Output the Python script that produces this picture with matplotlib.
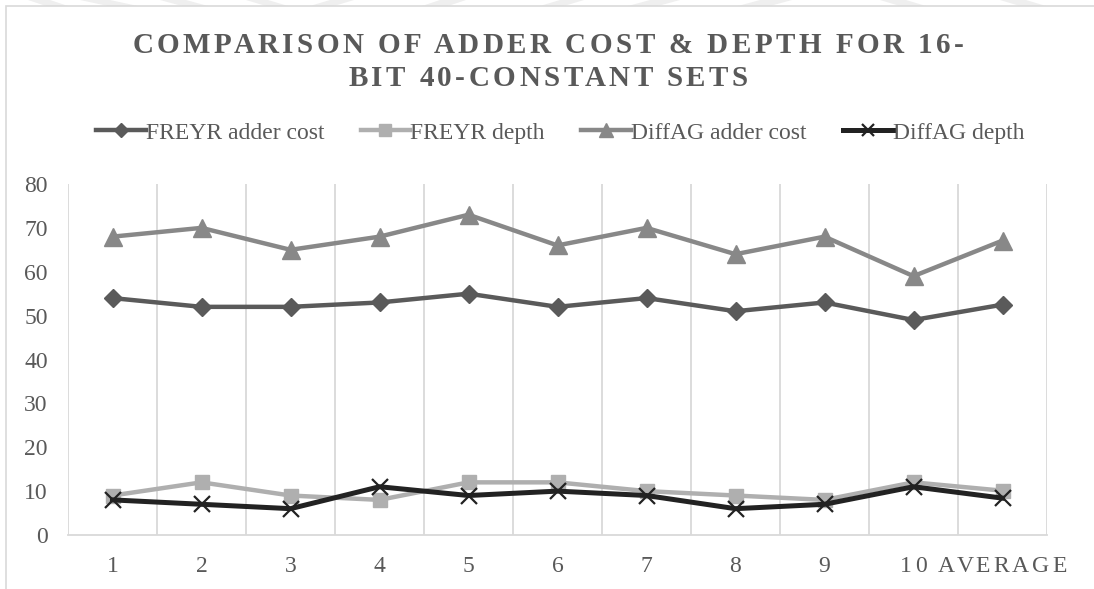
import numpy as np
import matplotlib
matplotlib.use("Agg")
import matplotlib.pyplot as plt
from matplotlib.transforms import IdentityTransform
from matplotlib.patches import Rectangle, Polygon
from matplotlib.lines import Line2D

# ---- data -------------------------------------------------------------
categories = ["1", "2", "3", "4", "5", "6", "7", "8", "9", "10", "AVERAGE"]
freyr_cost = [54, 52, 52, 53, 55, 52, 54, 51, 53, 49, 52.5]
freyr_depth = [9, 12, 9, 8, 12, 12, 10, 9, 8, 12, 10.1]
diffag_cost = [68, 70, 65, 68, 73, 66, 70, 64, 68, 59, 67.1]
diffag_depth = [8, 7, 6, 11, 9, 10, 9, 6, 7, 11, 8.4]
series_names = ["FREYR adder cost", "FREYR depth", "DiffAG adder cost", "DiffAG depth"]
title_lines = ["COMPARISON OF ADDER COST & DEPTH FOR 16-", "BIT 40-CONSTANT SETS"]
y_ticks = list(range(0, 81, 10))

# ---- styling ----------------------------------------------------------
SERIF = "Liberation Serif"
TEXT_GREY = "#595959"
GRID_GREY = "#d9d9d9"
W, H = 1094, 589

fig = plt.figure(figsize=(W / 100, H / 100), dpi=100)
fig.patch.set_facecolor("white")

# chart-area frame (runs off the right and bottom edges)
fig.patches.append(Rectangle((6 / W, -0.2), 1.3, 1 - 6 / H + 0.2,
                             transform=fig.transFigure, fill=False,
                             ec=GRID_GREY, lw=1.2))

# faint diagonal bands along the very top edge
for x0, slope_w, band in [(28, 18, 22), (80, 28, 30), (160, 22, 26), (246, 20, 22),
                          (330, -20, 24), (440, -18, 26), (560, -20, 24),
                          (650, -22, 30), (760, -22, 32), (880, 20, 26),
                          (1000, 20, 26)]:
    pts = [(x0, H), (x0 + band, H), (x0 + band + slope_w, H - 6), (x0 + slope_w, H - 6)]
    fig.patches.append(Polygon(pts, closed=True, transform=IdentityTransform(),
                               fc="#efefef", ec="none", zorder=0))

ax = fig.add_axes([68 / W, 1 - 535 / H, (1047 - 68) / W, (535 - 184) / H])
x = np.arange(len(categories)) + 0.5
ax.set_xlim(0, len(categories))
ax.set_ylim(0, 80)

for side in ["left", "right", "top"]:
    ax.spines[side].set_visible(False)
ax.spines["bottom"].set_color(GRID_GREY)
ax.spines["bottom"].set_linewidth(1.3)

ax.set_xticks(np.arange(len(categories) + 1))
ax.grid(axis="x", color=GRID_GREY, lw=1.3)
ax.set_axisbelow(True)
ax.tick_params(axis="x", length=0, labelbottom=False)
ax.set_yticks(y_ticks)
ax.set_yticklabels([str(v) for v in y_ticks], fontfamily=SERIF)
ax.tick_params(axis="y", length=0, pad=14.5, labelsize=17, labelcolor=TEXT_GREY)

styles = [
    dict(color="#5a5a5a", lw=3.2, marker="D", ms=9.5),
    dict(color="#afafaf", lw=3.2, marker="s", ms=10),
    dict(color="#888888", lw=3.2, marker="^", ms=13),
    dict(color="#222222", lw=3.6, marker="x", ms=11, mew=1.6),
]
handles = []
for vals, name, st, z in zip([freyr_cost, freyr_depth, diffag_cost, diffag_depth],
                             series_names, styles, [3, 4, 5, 6]):
    ln, = ax.plot(x, vals, label=name, zorder=z, clip_on=False, **st)
    handles.append(ln)

leg_handles = []
for st in styles:
    s = dict(st)
    s["ms"] = s["ms"] * 0.8
    leg_handles.append(Line2D([], [], **s))
fig.legend(leg_handles, series_names, loc="center",
           bbox_to_anchor=(560 / W, 1 - 133 / H), ncol=4, frameon=False,
           prop={"family": SERIF, "size": 17}, labelcolor=TEXT_GREY,
           handlelength=2.1, handletextpad=0.0, columnspacing=1.55)


def tracked_text(x, y, s, track, **kw):
    """Centre a string at display (x, y) with extra space between letters."""
    r = fig.canvas.get_renderer()

    def width(t):
        tt = fig.text(0, 0, t, **kw)
        w = tt.get_window_extent(r).width
        tt.remove()
        return w

    base = width("||")
    adv = [width("|" + s[:i] + "|") - base for i in range(len(s) + 1)]
    total = adv[-1] + track * (len(s) - 1)
    left = x - total / 2
    for i, c in enumerate(s):
        if c == " ":
            continue
        cx = left + (adv[i] + adv[i + 1]) / 2 + i * track
        fig.text(cx, y, c, ha="center", va="baseline",
                 transform=IdentityTransform(), **kw)


# title
tracked_text(W / 2 + 1, H - 53, title_lines[0], 3.5,
             family=SERIF, weight="bold", size=21, color=TEXT_GREY)
tracked_text(W / 2 + 1, H - 86, title_lines[1], 3.5,
             family=SERIF, weight="bold", size=21, color=TEXT_GREY)

# category labels
for xi, lab in zip(x, categories):
    px, py = ax.transData.transform((xi, 0))
    tracked_text(px, py - 37, lab, 3.3, family=SERIF, size=17, color=TEXT_GREY)

fig.savefig("out.png", dpi=100)
